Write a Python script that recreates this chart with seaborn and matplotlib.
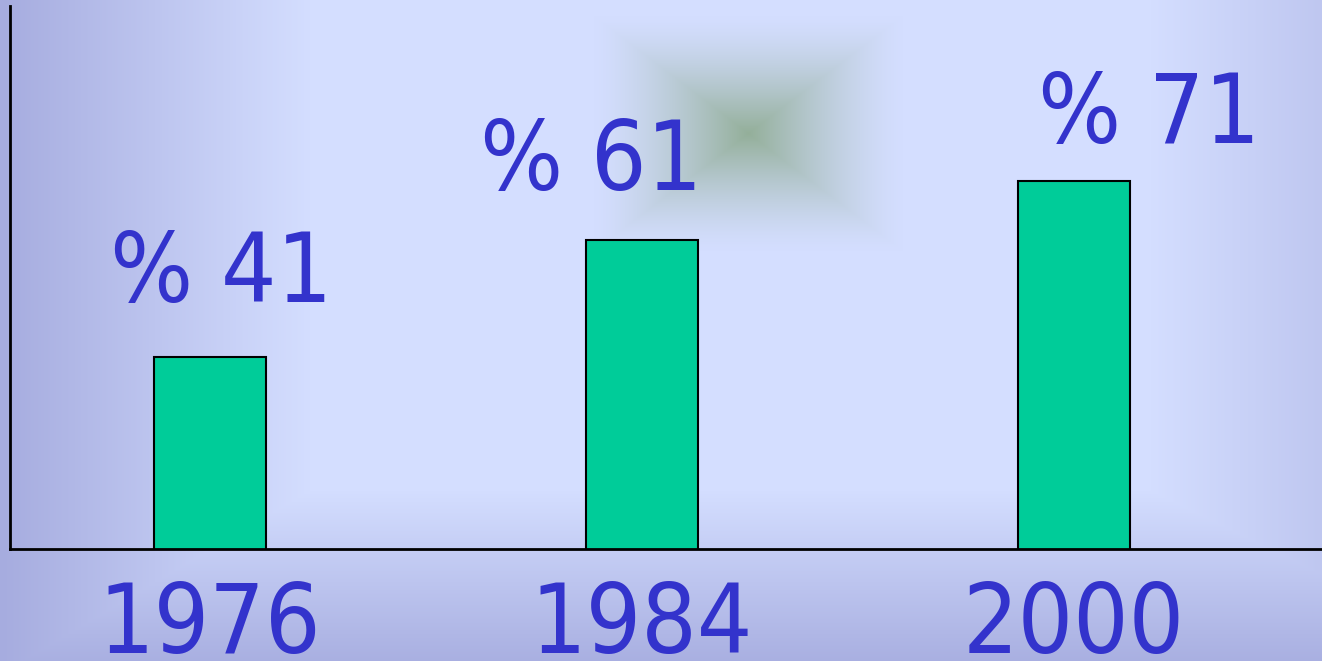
import numpy as np
import matplotlib.pyplot as plt
import seaborn as sns

# Data
years = ["1976", "1984", "2000"]
shares = [41, 61, 71]

# label offsets above each bar (points), as placed on the original slide
label_dx = [8, -37, 54]
label_dy = [25, 21, 13]

sns.set_style("white")
plt.rcParams['font.family'] = ['DejaVu Sans']
plt.rcParams['font.stretch'] = 'condensed'

W, H = 1322, 661
fig = plt.figure(figsize=(W / 100, H / 100), dpi=100)

# slide-like background: light blue with darker edges and a blurred green square
bg = fig.add_axes([0, 0, 1, 1])
bg.axis("off")
xx, yy = np.meshgrid(np.arange(W), np.arange(H))
left = np.clip(1 - xx / 310, 0, 1)
right = np.clip((xx - 1150) / 172, 0, 1) * 0.46
bottom = np.clip((yy - 490) / 171, 0, 1) * 0.93
d = np.maximum(np.maximum(left, right), bottom)[..., None]
light = np.array([212, 222, 255]) / 255
dark = np.array([166, 172, 223]) / 255
img = light * (1 - d) + dark * d

g = 1 - np.maximum(np.abs(xx - 748) / 155, np.abs(yy - 133) / 118)
a = (np.clip(g, 0, 1) ** 1.4 * 0.7)[..., None]
green = np.array([120, 155, 110]) / 255
img = img * (1 - a) + green * a
bg.imshow(img, aspect="auto", extent=[0, W, H, 0])

# bar chart
ax = fig.add_axes([10 / W, 112 / H, 1312 / W, 543 / H])
ax.patch.set_alpha(0)
sns.barplot(x=years, y=shares, color="#00CC99", saturation=1, width=0.26,
            edgecolor="black", linewidth=1.5, ax=ax)
ax.set_xlim(-0.463, 2.574)
ax.set_ylim(8.3, 100.8)
ax.set_yticks([])
ax.set_xlabel("")
ax.set_ylabel("")
for s in ["top", "right"]:
    ax.spines[s].set_visible(False)
for s in ["left", "bottom"]:
    ax.spines[s].set_color("black")
    ax.spines[s].set_linewidth(2)
ax.tick_params(axis="x", length=0, labelsize=70, labelcolor="#3333CC", pad=22)

for bar, v, dx, dy in zip(ax.containers[0], shares, label_dx, label_dy):
    ax.annotate(f"% {v}", (bar.get_x() + bar.get_width() / 2, bar.get_height()),
                xytext=(dx, dy), textcoords="offset points",
                ha="center", va="bottom", fontsize=70, color="#3333CC")

fig.savefig("out.png", dpi=100)
